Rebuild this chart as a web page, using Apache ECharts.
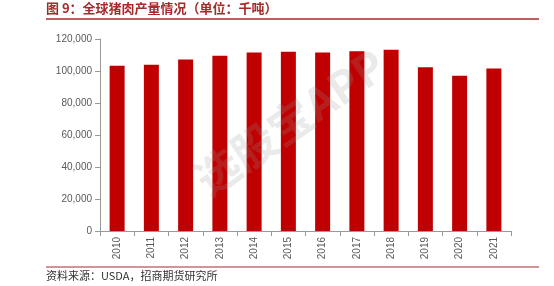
<!DOCTYPE html>
<html><head><meta charset="utf-8">
<script src="https://cdn.jsdelivr.net/npm/echarts@6/dist/echarts.min.js"></script>
<style>html,body{margin:0;padding:0;background:#fff}#c{width:554px;height:286px}</style>
</head><body><div id="c"></div>
<script>
const categories = ['2010','2011','2012','2013','2014','2015','2016','2017','2018','2019','2020','2021'];
const production = [103300,103900,107200,109500,111600,112000,111600,112400,113300,102300,97100,101600];
const yTicks = [0,20000,40000,60000,80000,100000,120000];
const title = '图 9：全球猪肉产量情况（单位：千吨）';
const source = '资料来源：USDA，招商期货研究所';

const chart = echarts.init(document.getElementById('c'), null, {renderer:'canvas'});
chart.setOption({
  animation:false,
  backgroundColor:'#fff',
  grid:{left:100,right:43,top:39,bottom:55},
  graphic:[
    {type:'text',left:46,top:2,style:{text:title,fill:'#A52A2A',font:'bold 13px "Noto Sans CJK SC"'}},
    {type:'line',shape:{x1:46,y1:19,x2:539,y2:19},style:{stroke:'#A52A2A',lineWidth:1.5}},
    {type:'line',shape:{x1:46,y1:267,x2:539,y2:267},style:{stroke:'#A52A2A',lineWidth:1}},
    {type:'text',left:46,top:270,style:{text:source,fill:'#333',font:'11px "Noto Sans CJK SC"'}},
    {type:'text',x:290,y:122,rotation:0.6,originX:0,originY:0,
      style:{text:'选股宝APP',fill:'rgba(150,150,150,0.2)',font:'bold 44px "Noto Sans CJK SC"',align:'center',verticalAlign:'middle'},z:100}
  ],
  xAxis:{type:'category',data:categories,
    axisLine:{lineStyle:{color:'#999'}},
    axisTick:{show:true,alignWithLabel:false,lineStyle:{color:'#999'}},
    axisLabel:{rotate:90,color:'#595959',fontSize:10,fontFamily:'Liberation Sans',margin:6}},
  yAxis:{type:'value',min:0,max:120000,interval:20000,
    axisLine:{show:true,lineStyle:{color:'#999'}},
    axisTick:{show:true,lineStyle:{color:'#999'}},
    splitLine:{show:false},
    axisLabel:{color:'#595959',fontSize:10,fontFamily:'Liberation Sans',margin:8,
      formatter:v=>v.toLocaleString('en-US')}},
  series:[{type:'bar',data:production,barWidth:15,itemStyle:{color:'#C00000'}}]
});
</script></body></html>
